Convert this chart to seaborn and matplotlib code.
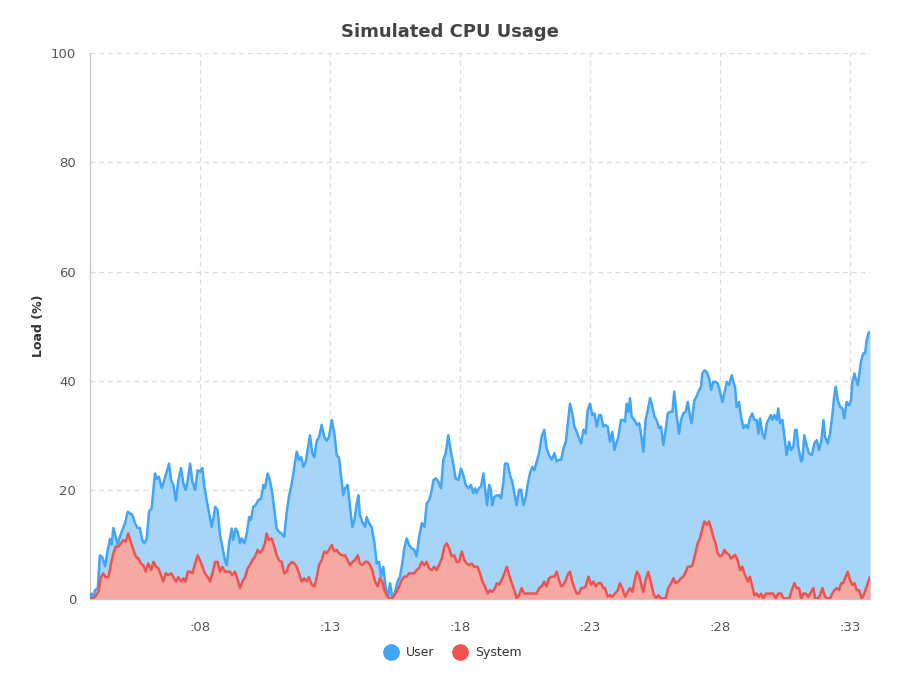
import numpy as np
import pandas as pd
import matplotlib
matplotlib.use("Agg")
import matplotlib.pyplot as plt
from matplotlib.lines import Line2D
import seaborn as sns

# ---------------- data (seconds, load %) ----------------
user_t = [3.77, 3.83, 3.90, 3.96, 4.07, 4.15, 4.24, 4.35, 4.45, 4.54, 4.60, 4.67, 4.76, 4.83, 4.92, 5.01, 5.12, 5.22, 5.31, 5.40,
          5.50, 5.60, 5.69, 5.78, 5.86, 5.95, 6.04, 6.14, 6.21, 6.27, 6.33, 6.42, 6.53, 6.63, 6.72, 6.81, 6.89, 6.98, 7.07, 7.17,
          7.27, 7.36, 7.45, 7.53, 7.62, 7.71, 7.81, 7.91, 8.00, 8.09, 8.17, 8.26, 8.35, 8.45, 8.55,
          8.58, 8.68, 8.77, 8.86, 8.96, 9.03, 9.12, 9.22, 9.28, 9.37, 9.45, 9.54, 9.60, 9.71, 9.80, 9.89, 9.96, 10.05, 10.14, 10.24,
          10.35, 10.44, 10.50, 10.60, 10.69, 10.78, 10.86, 10.95, 11.04, 11.14, 11.24, 11.33, 11.42, 11.53, 11.63, 11.72, 11.81, 11.89,
          11.98, 12.07, 12.14, 12.23, 12.32, 12.40, 12.49, 12.58, 12.68, 12.78, 12.87, 12.96, 13.07, 13.17, 13.26, 13.35, 13.45, 13.51,
          13.58, 13.68, 13.77, 13.86, 13.94, 14.03, 14.09, 14.15, 14.24, 14.35, 14.41, 14.50, 14.60, 14.71, 14.80, 14.89, 14.96, 15.05,
          15.14, 15.24, 15.31, 15.40, 15.50, 15.60, 15.69, 15.78, 15.86, 15.95, 16.04, 16.14, 16.24, 16.33, 16.42, 16.53, 16.63, 16.72,
          16.81, 16.89, 16.98, 17.07, 17.17, 17.27, 17.36, 17.45, 17.55, 17.66, 17.74, 17.83, 17.94, 18.04, 18.13, 18.22, 18.32, 18.42, 18.51,
          18.58, 18.64, 18.73, 18.81, 18.90, 18.96, 19.04, 19.12, 19.19, 19.24, 19.32, 19.41, 19.50, 19.58, 19.67, 19.73, 19.83, 19.92,
          20.01, 20.09, 20.18, 20.27, 20.35, 20.44, 20.53, 20.60, 20.69, 20.78, 20.86, 20.95, 21.04, 21.14, 21.24, 21.33, 21.42, 21.53,
          21.63, 21.72, 21.81, 21.89, 21.98, 22.07, 22.14, 22.23, 22.32, 22.40, 22.49, 22.58, 22.66, 22.74, 22.83, 22.91, 23.00, 23.09,
          23.17, 23.26, 23.35, 23.42, 23.51,
          23.58, 23.68, 23.77, 23.86, 23.94, 24.03, 24.09, 24.19, 24.28, 24.35, 24.41, 24.48, 24.54, 24.60, 24.71, 24.80, 24.89, 24.96,
          25.05, 25.14, 25.22, 25.31, 25.37, 25.48, 25.56, 25.66, 25.73, 25.82, 25.91, 25.99, 26.08, 26.17, 26.24, 26.33, 26.42, 26.50,
          26.59, 26.68, 26.76, 26.85, 26.91, 27.01, 27.10, 27.17, 27.27, 27.32, 27.40, 27.49, 27.58, 27.66, 27.74, 27.83, 27.91, 28.00,
          28.09, 28.17, 28.26, 28.35, 28.45, 28.55,
          28.58, 28.64, 28.73, 28.81, 28.90, 28.99, 29.07, 29.15, 29.24, 29.32, 29.41, 29.48, 29.54, 29.63, 29.71, 29.80, 29.89, 29.96,
          30.01, 30.09, 30.18, 30.24, 30.31, 30.40, 30.48, 30.56, 30.66, 30.73, 30.82, 30.89, 30.95, 31.01, 31.12, 31.17, 31.24, 31.33,
          31.42, 31.53, 31.63, 31.72, 31.81, 31.89, 31.98, 32.04, 32.14, 32.23, 32.32, 32.40, 32.45, 32.53, 32.62, 32.71, 32.78, 32.87,
          32.96, 33.04, 33.09, 33.17, 33.22, 33.30, 33.35, 33.42, 33.51, 33.58, 33.64, 33.71, 33.77]
user_v = [0.4, 1, 0, 1.6, 2, 8, 7.7, 6, 9, 11, 10, 13, 11.4, 10, 11.4, 12.6, 13.9, 16, 15.7, 15.4,
          13.9, 13, 13, 10.8, 10.2, 11, 16, 16.6, 20, 23, 22, 22.4, 20.3, 21.8, 23.3, 24.8, 21.8, 20.9, 18, 21.8,
          24, 21.2, 20, 21.8, 24.8, 21.5, 20, 23.6, 23.3, 24, 20.6, 18, 15.7, 13.2, 15.7,
          16.9, 16.3, 11.7, 9.6, 7.1, 6.2, 10.2, 12.9, 10.8, 12.9, 12.3, 10.2, 11.1, 10.2, 12, 15, 14.5, 16.9, 17.2, 18.1,
          18.4, 20.9, 20.3, 23, 21.8, 19.4, 16.3, 12.9, 12.3, 12, 11.4, 15.7, 18.7, 21.2, 24.2, 27, 25.5, 26,
          24.2, 25.2, 27.3, 30, 26.7, 26, 29, 29.7, 31.9, 29.7, 29, 29.7, 32.8, 30.3, 26.4, 25.8, 21.5, 19,
          20.3, 20.9, 16.9, 13.2, 14.5, 17.5, 19, 15.4, 14.2, 13.2, 15, 13.9, 13.2, 10.2, 6.5, 6.8, 4.1, 5.9,
          2.3, 0.4, 2.9, 0.1, 1.3, 3.2, 4.1, 6.5, 9.3, 11.1, 9.9, 9.3, 9, 7.8, 11.1, 13.9, 13.2, 17.5,
          18.1, 19.4, 21.8, 22.1, 21.5, 20.3, 25.5, 26.7, 30, 26.7, 24.8, 22.1, 21.8, 23.9, 22.7, 20.9, 20.3, 20.9, 19.4,
          20.3, 19.4, 20.3, 20.6, 23, 20.3, 17.2, 20.9, 20, 17.2, 18.7, 19, 19, 18.4, 21.5, 24.8, 24.8, 22.7,
          21.5, 19.4, 17.2, 20, 20, 17.2, 18.7, 20.9, 23, 24.2, 23.6, 25.2, 26.7, 29.7, 31, 27.6, 26.4, 25.5,
          26.7, 25.2, 25.5, 25.5, 27.6, 28.8, 31.9, 35.8, 34, 31.6, 30.6, 29.4, 28.5, 31, 30.3, 34.6, 35.8, 33.7,
          34, 31.6, 33.7, 33.7, 31.6,
          31.9, 31.6, 28.8, 30.6, 27.3, 28.8, 29.7, 32.8, 32.8, 32.5, 35.8, 34.3, 36.8, 33.4, 32.8, 31.9, 32.2, 30.3,
          27, 32.8, 34.6, 36.8, 35.8, 33.4, 32.8, 31.3, 31.6, 28.2, 31, 34, 34.3, 34.3, 38, 33.7, 30.3, 32.8,
          34, 34.3, 36.1, 33.4, 32.2, 36.4, 37.1, 38, 38.9, 41.3, 41.9, 41.6, 40.4, 38.3, 39.8, 39.8, 39.5, 38,
          36.1, 37.7, 39.8, 39.2, 41, 39.2,
          38.9, 35.2, 36.1, 33.4, 31.3, 31.9, 31.3, 33.1, 34, 32.8, 32.8, 30.3, 33.1, 30.3, 29.4, 32.2, 33.1, 33.7,
          32.8, 33.7, 32.8, 34.9, 32.2, 32.8, 29.7, 26.4, 28.8, 27.3, 27.9, 31, 31, 27.9, 25.2, 25.5, 30, 28.2,
          26.7, 26.4, 28.5, 29.1, 27.3, 28.8, 32.8, 29.7, 28.5, 30.3, 33.7, 37.4, 38.9, 36.4, 35.2, 34.9, 33.1, 36.1,
          35.5, 36.4, 39.8, 41.3, 40.3, 39.2, 41, 43.5, 45, 45, 47.4, 48.7, 49]

sys_t = [3.77, 3.96, 4.09, 4.19, 4.28, 4.37, 4.48, 4.58, 4.67, 4.76, 4.86, 4.96, 5.05, 5.14, 5.24, 5.35, 5.44, 5.53, 5.63, 5.73,
         5.82, 5.91, 6.01, 6.12, 6.21, 6.30, 6.40, 6.50, 6.59, 6.68, 6.78, 6.89, 6.98, 7.07, 7.17, 7.27, 7.36, 7.45, 7.53, 7.62,
         7.71, 7.81, 7.91, 8.00, 8.09, 8.19, 8.30, 8.39, 8.48,
         8.58, 8.68, 8.77, 8.86, 8.96, 9.07, 9.15, 9.24, 9.35, 9.45, 9.54, 9.63, 9.73, 9.83, 9.92, 10.01, 10.12, 10.22, 10.31, 10.40,
         10.50, 10.56, 10.65, 10.76, 10.86, 10.95, 11.04, 11.14, 11.24, 11.33, 11.42, 11.53, 11.63, 11.72, 11.81, 11.91, 12.01, 12.10,
         12.19, 12.30, 12.40, 12.49, 12.58, 12.68, 12.78, 12.87, 12.96, 13.07, 13.17, 13.26, 13.35, 13.45, 13.55,
         13.58, 13.68, 13.77, 13.86, 13.96, 14.07, 14.15, 14.24, 14.35, 14.45, 14.54, 14.63, 14.73, 14.83, 14.92, 15.01, 15.09, 15.18,
         15.27, 15.37, 15.47, 15.56, 15.66, 15.76, 15.86, 15.95, 16.04, 16.14, 16.24, 16.33, 16.42, 16.53, 16.63, 16.72, 16.81, 16.91,
         17.01, 17.10, 17.19, 17.30, 17.40, 17.49, 17.58, 17.68, 17.78, 17.87, 17.96, 18.07, 18.17, 18.26, 18.35, 18.45, 18.55,
         18.58, 18.68, 18.77, 18.86, 18.96, 19.07, 19.15, 19.24, 19.35, 19.41, 19.50, 19.60, 19.71, 19.80, 19.89, 19.99, 20.09, 20.18,
         20.27, 20.37, 20.47, 20.56, 20.65, 20.76, 20.86, 20.95, 21.04, 21.14, 21.24, 21.33, 21.42, 21.53, 21.63, 21.72, 21.81, 21.89,
         21.98, 22.07, 22.17, 22.23, 22.32, 22.40, 22.49, 22.58, 22.66, 22.74, 22.83, 22.94, 23.04, 23.13, 23.22, 23.32, 23.42, 23.51,
         23.58, 23.68, 23.77, 23.86, 23.96, 24.07, 24.15, 24.24, 24.35, 24.45, 24.54, 24.63, 24.71, 24.80, 24.89, 24.96, 25.05, 25.14,
         25.24, 25.35, 25.44, 25.53, 25.63, 25.73, 25.82, 25.91, 26.01, 26.12, 26.21, 26.30, 26.40, 26.50, 26.59, 26.68, 26.76, 26.85,
         26.94, 27.04, 27.14, 27.23, 27.32, 27.40, 27.49, 27.58, 27.66, 27.74, 27.83, 27.91, 28.00, 28.09, 28.17, 28.26, 28.35, 28.42, 28.51,
         28.58, 28.68, 28.77, 28.86, 28.96, 29.07, 29.15, 29.24, 29.32, 29.41, 29.50, 29.58, 29.67, 29.76, 29.86, 29.96, 30.05, 30.14,
         30.24, 30.35, 30.44, 30.56, 30.66, 30.76, 30.86, 30.95, 31.04, 31.12, 31.21, 31.30, 31.40, 31.50, 31.59, 31.66, 31.76, 31.85,
         31.94, 32.04, 32.14, 32.23, 32.32, 32.40, 32.49, 32.58, 32.66, 32.74, 32.81, 32.91, 33.00, 33.09, 33.17, 33.26, 33.35, 33.45,
         33.55, 33.64, 33.77]
sys_v = [0, 0.4, 1.3, 4, 4.7, 4, 4, 6.5, 8.4, 9.6, 9.6, 10.2, 10.8, 10.5, 12, 10.2, 9, 7.8, 7.4, 6.5,
         6.2, 5, 6.5, 5.3, 6.8, 6, 5.6, 4.4, 3.2, 4.7, 4.4, 4.7, 4, 3.2, 4, 3.2, 3.8, 3.2, 5, 5,
         4.7, 6.5, 8, 7.1, 6, 4.7, 4, 3.2, 4.7,
         6.8, 6.8, 5, 5.9, 5, 5, 5, 4.4, 5, 3.5, 2, 3.2, 4, 5.6, 6.2, 7.1, 7.8, 9, 8.4, 9,
         10.2, 12, 10.8, 11.1, 9.6, 8, 7.1, 6.8, 4.7, 5, 6.2, 6.8, 6.5, 5.9, 4.7, 3.2, 3.8, 3.2,
         4, 2.6, 2.3, 4, 6.2, 7.1, 8.7, 8.4, 9, 9.9, 8.7, 9, 8.4, 8, 8,
         8, 7.1, 6.2, 6.8, 7.1, 8, 6.5, 6.2, 6.8, 6.8, 6.2, 5.3, 3.2, 2.3, 3.8, 3.2, 1.6, 0.7,
         0.1, 0, 0.7, 1.3, 2.3, 3.5, 4.1, 4.1, 4.7, 4.7, 4.7, 5.3, 5.6, 6.8, 6.2, 6.8, 5.6, 5.3,
         5.9, 5.3, 6.2, 7.4, 9.6, 10.2, 9.3, 7.8, 8, 6.8, 6.8, 8.7, 7.1, 6.5, 6.2, 6.5, 5.9,
         5.9, 5.9, 4.7, 3.2, 2.3, 1, 1.6, 1.3, 2, 2.9, 2.6, 3.5, 4.7, 5.9, 4.4, 2.9, 1.6, 0.1,
         0.7, 2, 1, 1, 1, 1, 1, 1, 2, 2.3, 3.2, 2.3, 3.8, 4.1, 4.1, 5, 3.5, 2.3,
         2.6, 3.5, 4.7, 5, 3.2, 2, 1, 1, 2, 2, 2.3, 4.1, 2.6, 3.2, 2.3, 2.9, 2.9, 2,
         2, 0.4, 0.7, 0.4, 1, 1.6, 2.9, 2, 0.4, 1.3, 2, 1.3, 3.2, 5, 4.4, 2.9, 1.3, 3.5,
         5, 2.9, 1, 0.1, 0.7, 0.1, 0.1, 0.1, 2, 2.9, 3.8, 2.9, 3.2, 3.8, 4.1, 5, 5.9, 5.9,
         6.2, 8.1, 10.2, 11.1, 12.9, 14.2, 13.6, 14.2, 12.9, 11.4, 10.2, 8.4, 7.8, 8.1, 9, 8.4, 8.1, 7.4, 7.8,
         8.1, 7.1, 5.3, 5.9, 4.4, 3.2, 4.1, 2.3, 0.7, 1, 0.4, 1, 0.1, 1, 1, 1, 1, 0.1,
         1, 1, 0.1, 0.1, 0.1, 1.6, 2.9, 2, 2, 0.1, 1, 1, 0.4, 1.3, 2, 0.1, 0.1, 0.7,
         2, 0.4, 0.1, 0.1, 1, 1.6, 2, 1.6, 2.9, 2.9, 3.8, 5, 3.5, 2.6, 2.9, 1.6, 1.6, 0.1,
         1, 2.3, 4.1]

series_names = ["User", "System"]
line_colors = ["#42A5F5", "#EF5350"]
fill_colors = ["#A7D5F8", "#F6A8A2"]
x_ticks = [8, 13, 18, 23, 28, 33]
x_tick_labels = [":08", ":13", ":18", ":23", ":28", ":33"]
y_ticks = [0, 20, 40, 60, 80, 100]

df = pd.concat([
    pd.DataFrame({"t": user_t, "load": user_v, "series": "User"}),
    pd.DataFrame({"t": sys_t, "load": sys_v, "series": "System"}),
])

# ---------------- plot ----------------
sns.set_style("white")
plt.rcParams["font.family"] = ["DejaVu Sans"]

fig = plt.figure(figsize=(9, 7), dpi=100)
ax = fig.add_axes([0.1, 0.1443, 0.8667, 0.7797])

for name, lc, fc in zip(series_names, line_colors, fill_colors):
    sub = df[df["series"] == name]
    ax.fill_between(sub["t"], 0, sub["load"], color=fc, linewidth=0, zorder=2)
    sns.lineplot(data=sub, x="t", y="load", ax=ax, color=lc, linewidth=1.8,
                 legend=False, zorder=3, estimator=None, sort=False)

ax.set_xlim(min(user_t), max(user_t))
ax.set_ylim(0, 100)
ax.set_xticks(x_ticks)
ax.set_xticklabels(x_tick_labels)
ax.set_yticks(y_ticks)
ax.set_xlabel("")
ax.set_ylabel("Load (%)", fontsize=9, fontweight="bold", color="#333333", labelpad=4)

ax.grid(True, color="#DDDDDD", linestyle=(0, (4, 3)), linewidth=0.9, zorder=1)
ax.set_axisbelow(True)
for s in ["top", "right"]:
    ax.spines[s].set_visible(False)
ax.spines["left"].set_color("#C8C8C8")
ax.spines["bottom"].set_color("#C8C8C8")
ax.spines["left"].set_linewidth(1)
ax.spines["bottom"].set_linewidth(1)
ax.tick_params(axis="y", length=6, width=1, color="#C8C8C8", labelsize=9.5, labelcolor="#555555", pad=4)
ax.tick_params(axis="x", length=6, width=0.9, color="#DDDDDD", labelsize=9.5, labelcolor="#555555", pad=10)

fig.text(0.5, 0.954, "Simulated CPU Usage", ha="center", va="center",
         fontsize=13, fontweight="bold", color="#444444")

handles = [Line2D([0], [0], marker="o", linestyle="none", markersize=11,
                  markerfacecolor=c, markeredgecolor=c) for c in line_colors]
fig.legend(handles, series_names, loc="center", bbox_to_anchor=(0.5, 0.068), ncol=2,
           frameon=False, fontsize=9, handletextpad=0.2, columnspacing=1.0,
           labelcolor="#333333")

fig.savefig("out.png", dpi=100)
